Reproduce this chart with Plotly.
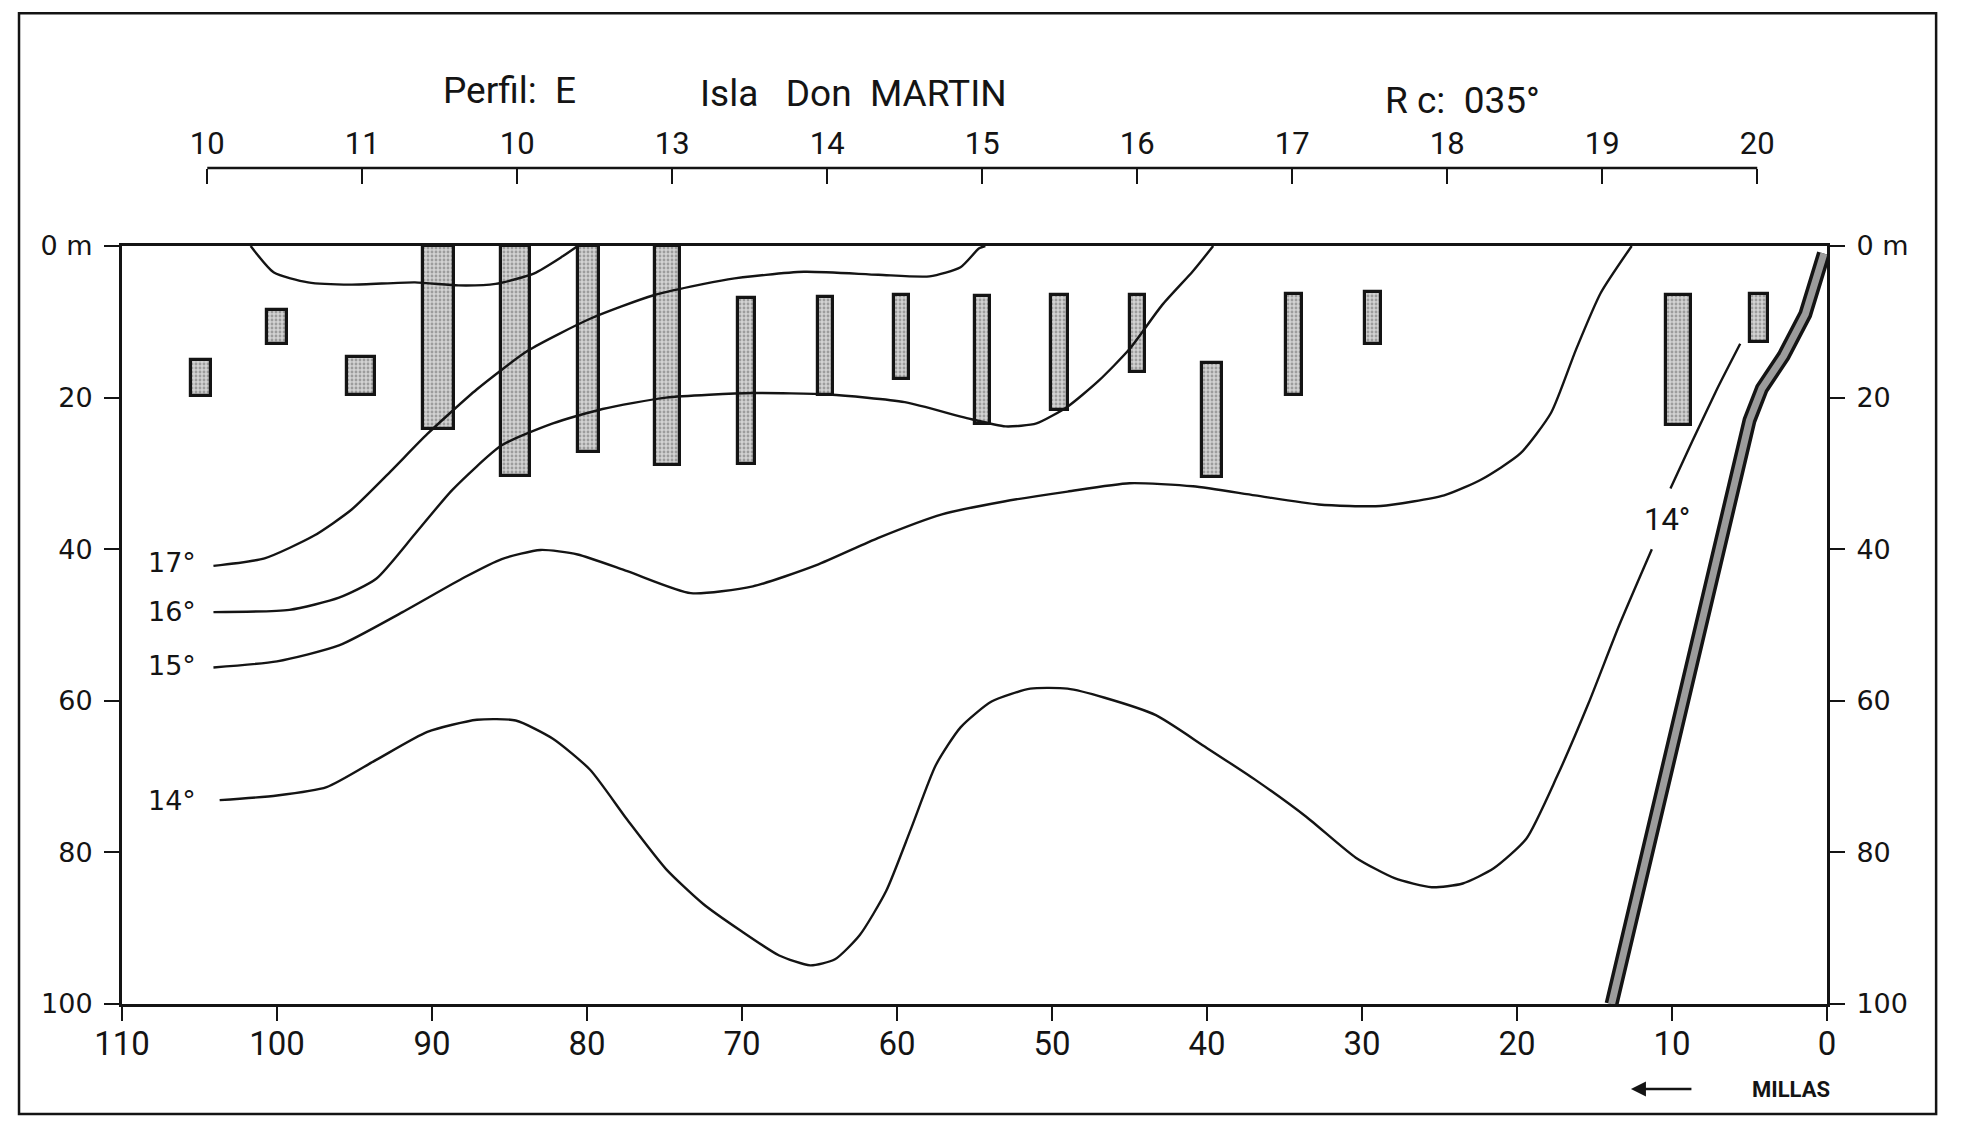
import plotly.graph_objects as go

# ---------------- data ----------------
DIST_TICKS = [110, 100, 90, 80, 70, 60, 50, 40, 30, 20, 10, 0]
DEPTH_TICKS = [0, 20, 40, 60, 80, 100]
DEPTH_LABELS = ["0 m", "20", "40", "60", "80", "100"]

STATION_POS = [104.5, 94.5, 84.5, 74.5, 64.5, 54.5, 44.5, 34.5, 24.5, 14.5, 4.5]
STATION_LABELS = ["10", "11", "10", "13", "14", "15", "16", "17", "18", "19", "20"]

# echo traces (shaded vertical bars)
BAR_DIST = [104.9, 100.0, 94.6, 89.6, 84.6, 79.9, 74.8, 69.7, 64.6, 59.7, 54.5, 49.5, 44.5, 39.7, 34.4, 29.3, 9.6, 4.4]
BAR_TOP = [15.0, 8.5, 14.6, 0.0, 0.0, 0.0, 0.0, 6.8, 6.7, 6.4, 6.6, 6.5, 6.4, 15.5, 6.3, 6.1, 6.4, 6.3]
BAR_BOTTOM = [19.8, 12.9, 19.7, 24.1, 30.4, 27.2, 28.9, 28.7, 19.6, 17.5, 23.5, 21.7, 16.6, 30.5, 19.6, 12.9, 23.6, 12.6]
BAR_WIDTH = [1.3, 1.3, 1.8, 2.0, 1.9, 1.4, 1.6, 1.1, 1.0, 1.0, 1.0, 1.1, 1.0, 1.3, 1.0, 1.0, 1.6, 1.2]

# isotherms
ISO17_LENS_DIST = [101.7, 100.2, 98.0, 95.2, 91.1, 88.3, 85.9, 83.4, 81.6, 80.6]
ISO17_LENS_DEPTH = [0.0, 3.5, 4.8, 5.1, 4.8, 5.2, 5.0, 3.6, 1.4, 0.0]

ISO17_DIST = [104.1, 100.8, 97.6, 95.2, 92.7, 90.3, 87.1, 83.8, 79.8, 75.7, 70.9, 66.0, 61.2, 57.9, 55.9, 54.7, 54.3]
ISO17_DEPTH = [42.2, 41.2, 38.2, 34.8, 29.8, 24.8, 18.9, 13.8, 9.6, 6.5, 4.4, 3.4, 3.8, 4.0, 2.8, 0.3, 0.0]

ISO16_DIST = [104.1, 99.2, 96.0, 93.6, 91.1, 88.7, 85.5, 82.2, 79.0, 74.9, 69.3, 64.4, 59.5, 55.5, 53.0, 51.0, 49.0, 47.0, 45.0, 42.9, 40.9, 39.6]
ISO16_DEPTH = [48.3, 48.0, 46.4, 43.9, 38.0, 32.2, 26.3, 23.4, 21.5, 20.0, 19.4, 19.6, 20.6, 22.7, 23.8, 23.4, 21.2, 17.8, 13.6, 7.8, 3.3, 0.0]

ISO15_DIST = [104.1, 100.0, 96.0, 91.9, 87.9, 85.5, 83.0, 80.6, 77.4, 73.3, 69.3, 65.2, 61.2, 57.1, 53.1, 49.0, 45.0, 40.9, 36.9, 32.8, 28.8, 24.7, 22.3, 19.8, 17.8, 16.2, 14.6, 12.6]
ISO15_DEPTH = [55.6, 54.8, 52.7, 48.3, 43.7, 41.3, 40.1, 40.7, 42.9, 45.8, 44.9, 42.1, 38.5, 35.4, 33.7, 32.4, 31.3, 31.7, 32.9, 34.1, 34.3, 32.9, 30.8, 27.4, 22.0, 13.7, 6.2, 0.0]

ISO14_DIST = [103.7, 100.0, 96.8, 93.6, 90.3, 87.1, 84.6, 82.2, 79.8, 77.4, 74.9, 72.5, 70.1, 67.6, 65.6, 64.0, 62.4, 60.7, 59.1, 57.5, 55.9, 53.9, 51.4, 49.0, 46.6, 43.3, 40.1, 36.9, 33.6, 30.4, 27.9, 25.5, 23.5, 21.5, 19.4, 17.4, 15.4, 13.4, 11.3, None, 10.1, 8.7, 7.1, 5.6]
ISO14_DEPTH = [73.1, 72.5, 71.4, 67.8, 64.1, 62.5, 62.6, 65.0, 69.1, 75.7, 82.2, 86.8, 90.3, 93.6, 94.9, 94.1, 90.9, 85.1, 76.9, 68.5, 63.5, 60.1, 58.4, 58.4, 59.6, 61.9, 66.1, 70.4, 75.3, 80.7, 83.4, 84.6, 84.1, 82.1, 78.2, 69.9, 60.4, 50.0, 40.0, None, 32.0, 25.8, 18.9, 12.9]

# sea floor / coast slope
FLOOR_DIST = [13.9, 11.0, 8.0, 5.0, 4.2, 2.8, 1.4, 0.2]
FLOOR_DEPTH = [100.0, 75.0, 49.0, 23.0, 18.8, 14.5, 9.0, 1.0]

# isotherm labels
LABEL_TEXT = ["17°", "17°", "17°", "16°", "15°", "17°", "16°", "15°", "14°", "14°"]
LABEL_DIST = [101.7, 79.4, 53.6, 38.2, 11.1, 106.8, 106.8, 106.8, 106.8, 10.3]
LABEL_DEPTH = [-2.6, -2.6, -2.6, -2.6, -2.8, 41.7, 48.2, 55.3, 73.1, 36.1]
LABEL_FONT = ["n", "n", "n", "n", "n", "w", "w", "w", "w", "n"]

NARROW = "Roboto, Liberation Sans Narrow, sans-serif"
WIDE = "DejaVu Sans, Verdana, sans-serif"
INK = "#141414"

fig = go.Figure()

# bars
fig.add_trace(go.Bar(
    x=BAR_DIST,
    y=[b - t for t, b in zip(BAR_TOP, BAR_BOTTOM)],
    base=BAR_TOP,
    width=BAR_WIDTH,
    marker=dict(color="#c4c4c4", line=dict(color=INK, width=3.2),
                pattern=dict(shape=".", fgcolor="#666666", bgcolor="#d2d2d2", size=4, solidity=0.4)),
    hoverinfo="skip",
))

line_style = dict(color=INK, width=2.4, shape="spline", smoothing=0.6)
for xs, ys in [(ISO17_LENS_DIST, ISO17_LENS_DEPTH), (ISO17_DIST, ISO17_DEPTH),
               (ISO16_DIST, ISO16_DEPTH), (ISO15_DIST, ISO15_DEPTH), (ISO14_DIST, ISO14_DEPTH)]:
    fig.add_trace(go.Scatter(x=xs, y=ys, mode="lines", line=line_style, hoverinfo="skip"))

# sea floor band (drawn on right depth axis, same scale)
fig.add_trace(go.Scatter(x=FLOOR_DIST, y=FLOOR_DEPTH, mode="lines", yaxis="y2",
                         line=dict(color=INK, width=14), hoverinfo="skip"))
fig.add_trace(go.Scatter(x=FLOOR_DIST, y=FLOOR_DEPTH, mode="lines", yaxis="y2",
                         line=dict(color="#9c9c9c", width=7), hoverinfo="skip"))

# station axis carrier
fig.add_trace(go.Scatter(x=STATION_POS, y=[0] * len(STATION_POS), xaxis="x2", mode="markers",
                         marker=dict(opacity=0), hoverinfo="skip"))

annotations = []
for t, x, y, f in zip(LABEL_TEXT, LABEL_DIST, LABEL_DEPTH, LABEL_FONT):
    annotations.append(dict(x=x, y=y, xref="x", yref="y", text=t, showarrow=False,
                            font=dict(family=NARROW if f == "n" else WIDE,
                                      size=31 if f == "n" else 27, color=INK),
                            bgcolor="white" if f == "n" and y > 0 else None,
                            xanchor="center", yanchor="middle"))

# titles
for txt, px, py in [("Perfil:  E", 0.227, 1.093), ("Isla   Don  MARTIN", 0.429, 1.089), ("R c:  035°", 0.786, 1.081)]:
    annotations.append(dict(x=px, y=py, xref="paper", yref="paper", text=txt, showarrow=False,
                            font=dict(family=NARROW, size=37, color=INK),
                            xanchor="center", yanchor="middle"))

# millas arrow
annotations.append(dict(x=0.885, y=-0.1017, xref="paper", yref="paper", text="", showarrow=True,
                        ax=62, ay=0, arrowhead=2, arrowsize=1.2, arrowwidth=2.5, arrowcolor=INK))
annotations.append(dict(x=0.979, y=-0.1017, xref="paper", yref="paper", text="<b>MILLAS</b>",
                        showarrow=False, font=dict(family=NARROW, size=22, color=INK),
                        xanchor="center", yanchor="middle"))

shapes = [
    # station axis line
    dict(type="line", xref="x", yref="paper", x0=STATION_POS[0], x1=STATION_POS[-1], y0=1.0, y1=1.0,
         line=dict(color=INK, width=2.5)),
    # outer frame
    dict(type="rect", xref="paper", yref="paper", x0=-0.0604, x1=1.064, y0=-0.1316, y1=1.185,
         line=dict(color=INK, width=2.5), layer="below"),
]

fig.update_layout(
    width=1959, height=1127,
    margin=dict(l=114, r=140, t=160, b=131),
    paper_bgcolor="white", plot_bgcolor="white",
    showlegend=False, bargap=0,
    xaxis=dict(range=[110, 0], tickvals=DIST_TICKS, ticks="outside", ticklen=14, tickwidth=2.2,
               tickcolor=INK, showline=True, linewidth=3, linecolor=INK, mirror=True,
               showgrid=False, zeroline=False, ticklabelstandoff=-6,
               tickfont=dict(family=NARROW, size=33, color=INK)),
    xaxis2=dict(range=[110, 0], overlaying="x", side="top", anchor="free", position=1.0,
                tickvals=STATION_POS, ticktext=STATION_LABELS, ticks="inside", ticklen=15,
                tickwidth=2.2, tickcolor=INK, showline=False, showgrid=False, zeroline=False,
                ticklabelstandoff=8, tickfont=dict(family=NARROW, size=31, color=INK)),
    yaxis=dict(range=[100, 0], domain=[0, 0.9067], tickvals=DEPTH_TICKS, ticktext=DEPTH_LABELS,
               ticks="outside", ticklen=15, tickwidth=2.2, tickcolor=INK, showline=True,
               linewidth=3, linecolor=INK, showgrid=False, zeroline=False, ticklabelstandoff=6,
               tickfont=dict(family=WIDE, size=27, color=INK)),
    yaxis2=dict(range=[100, 0], overlaying="y", side="right", anchor="x", tickvals=DEPTH_TICKS,
                ticktext=DEPTH_LABELS, ticks="outside", ticklen=15, tickwidth=2.2, tickcolor=INK,
                showline=True, linewidth=3, linecolor=INK, showgrid=False, zeroline=False,
                ticklabelstandoff=6, tickfont=dict(family=WIDE, size=27, color=INK)),
    annotations=annotations,
    shapes=shapes,
)

fig.write_html("out.html")
